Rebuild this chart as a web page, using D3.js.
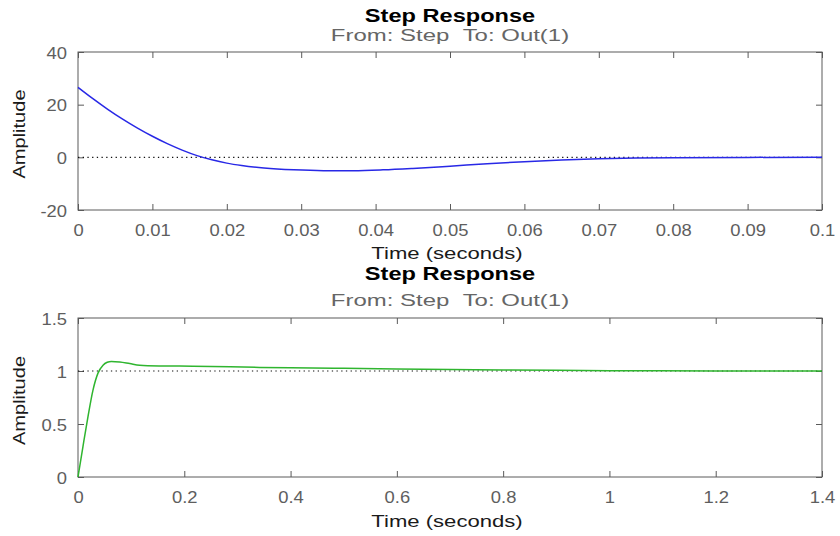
<!DOCTYPE html>
<html><head><meta charset="utf-8">
<script src="https://cdn.jsdelivr.net/npm/d3@7"></script>
<style>body{margin:0;background:#fff}svg{display:block}</style>
</head><body><svg id="c" width="840" height="536"></svg>
<script>
const titleText = "Step Response";
const subText = "From: Step\u00a0\u00a0To: Out(1)";
const xLabel = "Time (seconds)";
const yLabel = "Amplitude";

const topT = [0,0.002,0.004,0.006,0.008,0.010,0.012,0.014,0.016,0.018,0.020,0.022,0.025,0.029,0.033,0.037,0.041,0.045,0.05,0.055,0.06,0.065,0.07,0.075,0.08,0.09,0.1];
const topY = [26.6,22.3,18.25,14.5,11.1,8.0,5.2,2.75,0.65,-0.95,-2.2,-3.1,-4.05,-4.75,-5.05,-5.05,-4.75,-4.2,-3.35,-2.45,-1.65,-1.0,-0.55,-0.28,-0.13,-0.02,0];
const topXTicks = [0,0.01,0.02,0.03,0.04,0.05,0.06,0.07,0.08,0.09,0.1];
const topXLabels = ["0","0.01","0.02","0.03","0.04","0.05","0.06","0.07","0.08","0.09","0.1"];
const topYTicks = [-20,0,20,40];
const topYLabels = ["-20","0","20","40"];
const topRef = 0;

const botT = [0,0.0094,0.0188,0.0282,0.0376,0.0471,0.055,0.0628,0.0785,0.0973,0.116,0.154,0.216,0.342,0.4,0.5,0.6,0.7,0.8,0.9,1.0,1.2,1.4];
const botY = [0,0.29,0.57,0.82,0.98,1.055,1.082,1.09,1.085,1.07,1.055,1.048,1.045,1.034,1.03,1.025,1.02,1.015,1.01,1.006,1.003,1.001,1.0];
const botXTicks = [0,0.2,0.4,0.6,0.8,1,1.2,1.4];
const botXLabels = ["0","0.2","0.4","0.6","0.8","1","1.2","1.4"];
const botYTicks = [0,0.5,1,1.5];
const botYLabels = ["0","0.5","1","1.5"];
const botRef = 1;

const svg = d3.select("#c");
const font = "'Liberation Sans', Arial, Helvetica, sans-serif";
const L = 78, R = 822;

function label(g, x, y, txt, size, sx, fill, weight){
  g.append("text").attr("transform",`translate(${x},${y}) scale(${sx},1)`).attr("text-anchor","middle")
    .style("font-family",font).style("font-size",size+"px").style("font-weight",weight||"normal")
    .attr("fill",fill).text(txt);
}

function panel(o){
  const g = svg.append("g");
  const x = d3.scaleLinear().domain([o.xt[0], o.xt[o.xt.length-1]]).range([L, R]);
  const y = d3.scaleLinear().domain([o.yt[0], o.yt[o.yt.length-1]]).range([o.bottom, o.top]);
  const ax = "#5a5a5a";
  const tl = 6, tsx = 1.15;
  g.append("rect").attr("x",L).attr("y",o.top).attr("width",R-L).attr("height",o.bottom-o.top)
    .attr("fill","none").attr("stroke",ax).attr("stroke-width",1);
  const gx = g.append("g").attr("transform",`translate(0,${o.bottom})`)
    .call(d3.axisBottom(x).tickValues(o.xt).tickSize(-tl).tickFormat((d,i)=>o.xl[i]));
  const gxt = g.append("g").attr("transform",`translate(0,${o.top})`)
    .call(d3.axisTop(x).tickValues(o.xt).tickSize(-tl).tickFormat(""));
  const gy = g.append("g").attr("transform",`translate(${L},0)`)
    .call(d3.axisLeft(y).tickValues(o.yt).tickSize(-tl).tickFormat((d,i)=>o.yl[i]));
  const gyr = g.append("g").attr("transform",`translate(${R},0)`)
    .call(d3.axisRight(y).tickValues(o.yt).tickSize(-tl).tickFormat(""));
  [gx,gxt,gy,gyr].forEach(a=>{
    a.select(".domain").remove();
    a.selectAll("line").attr("stroke",ax);
    a.selectAll("text").attr("fill","#5e5e5e").style("font-family",font).style("font-size","16px");
  });
  gx.selectAll("text").attr("y",0).attr("dy",0).attr("transform",`translate(0,26) scale(${tsx},1)`);
  gy.selectAll("text").attr("x",0).attr("dy",0).attr("transform",`translate(-11,6) scale(${tsx},1)`);
  g.append("line").attr("x1",L).attr("x2",R).attr("y1",y(o.ref)).attr("y2",y(o.ref))
    .attr("stroke","#111").attr("stroke-width",1.1).attr("stroke-dasharray","1.3,3.4");
  const pts = o.t.map((t,i)=>[t,o.v[i]]);
  g.append("path").datum(pts)
    .attr("d", d3.line().x(d=>x(d[0])).y(d=>y(d[1])).curve(d3.curveMonotoneX))
    .attr("fill","none").attr("stroke",o.color).attr("stroke-width",1.5);
  label(g, 450, o.titleY, titleText, 18, 1.31, "#000", "bold");
  label(g, 450, o.subY, subText, 17, 1.41, "#666");
  label(g, 447, o.bottom+o.xlab, xLabel, 17, 1.3, "#1a1a1a");
  const cy = (o.top+o.bottom)/2 + 3;
  g.append("text").attr("transform",`translate(25,${cy}) rotate(-90) scale(1.18,1)`).attr("text-anchor","middle")
    .style("font-family",font).style("font-size","17px").attr("fill","#1a1a1a").text(yLabel);
}

panel({top:52,bottom:210,xt:topXTicks,xl:topXLabels,yt:topYTicks,yl:topYLabels,t:topT,v:topY,ref:topRef,color:"#2828e6",titleY:22,subY:41,xlab:49});
panel({top:318,bottom:477,xt:botXTicks,xl:botXLabels,yt:botYTicks,yl:botYLabels,t:botT,v:botY,ref:botRef,color:"#2fb52f",titleY:280,subY:306,xlab:50});
</script></body></html>
